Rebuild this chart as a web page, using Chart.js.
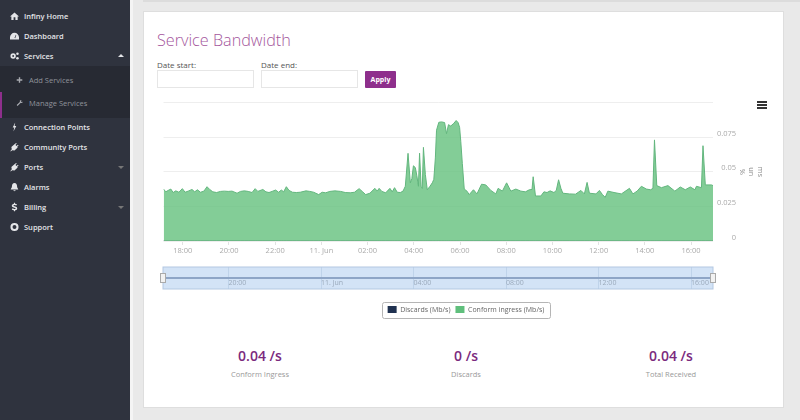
<!DOCTYPE html>
<html><head><meta charset="utf-8">
<script src="https://cdn.jsdelivr.net/npm/chart.js@4"></script>
<style>
html,body{margin:0;padding:0;background:#e9e9e9;width:800px;height:420px;overflow:hidden;font-family:"Open Sans",sans-serif}
.abs{position:absolute}
#side{left:0;top:0;width:130px;height:420px;background:#2f333e}
#gap{left:130px;top:0;width:3px;height:420px;background:#f4f4f4}
#sub{left:0;top:66px;width:130px;height:52px;background:#272a33}
#act{left:0;top:92px;width:1.5px;height:26px;background:#8e2f8c}
.m{position:absolute;left:24px;font-size:7.5px;font-weight:600;color:#e4e5e8;line-height:12px;transform:translateY(-6px);white-space:nowrap}
.s{font-weight:400;color:#8f929a;left:29px}
svg.i{position:absolute;left:9.5px;width:9px;height:9px;transform:translateY(-4.5px);fill:#e4e5e8}
svg.sm{left:15.5px;width:7px;height:7px;transform:translateY(-3.5px);fill:#a8aab0}
.car{position:absolute;left:118px;width:0;height:0;border-left:3px solid transparent;border-right:3px solid transparent}
#top{left:143px;top:0;width:657px;height:1.5px;background:#dcdcdc}
#card{left:143px;top:11px;width:641px;height:397px;background:#fff;border:1px solid #dedede;box-sizing:border-box}
h1{position:absolute;left:157px;top:28px;margin:0;font-size:16.2px;line-height:24px;font-weight:300;color:#a4569c;white-space:nowrap}
.lab{position:absolute;top:59px;font-size:8px;line-height:11px;font-weight:400;color:#555;white-space:nowrap}
.inp{position:absolute;top:70px;height:18px;width:97px;border:1px solid #e6e6e6;box-sizing:border-box;background:#fff}
#apply{left:365px;top:71px;width:31px;height:17px;background:#8e2f8c;color:#fff;font-size:7px;font-weight:700;text-align:center;line-height:17px;border-radius:1px}
#burger{left:757px;top:101px;width:10px;height:2px;background:#333;box-shadow:0 3px 0 #333,0 6px 0 #333}
canvas{position:absolute;display:block}
.val{position:absolute;top:346px;width:120px;text-align:center;font-size:14px;line-height:20px;font-weight:600;color:#7b2a7e}
.cap{position:absolute;top:369px;width:120px;text-align:center;font-size:7.5px;line-height:10px;color:#999}
</style></head>
<body>
<div class="abs" id="side"></div><div class="abs" id="gap"></div><div class="abs" id="sub"></div><div class="abs" id="act"></div>
<div class="abs" id="top"></div><div class="abs" id="card"></div>
<svg class="i" style="top:16px" viewBox="0 0 10 10"><path d="M5 1 0 5.5h1.5V9.500h2.500V6.500h2V9.500h2.500V5.500H10z"/></svg><div class="m" style="top:16px">Infiny Home</div>
<svg class="i" style="top:36px" viewBox="0 0 10 10"><path d="M5 1.5A5 5 0 0 0 0 6.5V9h10V6.5A5 5 0 0 0 5 1.5zM5 7 6.5 3.500 7 4 5.800 7.500z"/></svg><div class="m" style="top:36px">Dashboard</div>
<svg class="i" style="top:56px" viewBox="0 0 10 10"><path fill-rule="evenodd" d="M3.5 2a3 3 0 1 0 0 6 3 3 0 0 0 0-6zm0 2a1 1 0 1 1 0 2 1 1 0 0 1 0-2z"/><circle cx="8.3" cy="2.5" r="1.4"/><circle cx="8.3" cy="7.5" r="1.4"/></svg><div class="m" style="top:56px">Services</div>
<i class="car" style="top:54px;border-bottom:3px solid #e4e5e8"></i>
<svg class="i sm" style="top:79.5px" viewBox="0 0 10 10"><path d="M4 1h2v3h3v2H6v3H4V6H1V4h3z"/></svg><div class="m s" style="top:79.5px">Add Services</div>
<svg class="i sm" style="top:103px" viewBox="0 0 10 10"><path d="M1 8 5.500 3.500 5.500 1.500 8 .8 7 2.500 8.500 4 9.500 2.500 9 5 6.500 5 2.200 9.200z"/></svg><div class="m s" style="top:103px">Manage Services</div>
<svg class="i" style="top:127px" viewBox="0 0 10 10"><path d="M5.800 0 3 5.500h1.800L3.800 10 7 4H5.100z"/></svg><div class="m" style="top:127px">Connection Points</div>
<svg class="i" style="top:147px" viewBox="0 0 10 10"><path d="M0 10 2 7.500 1.500 5 5 2 6.800.5l.7.7L6 2.700l1.300 1.300 1.500-1.500.7.7L8 4.700 8.500 5.500 5 9 2.500 8.500.8 10z"/></svg><div class="m" style="top:147px">Community Ports</div>
<svg class="i" style="top:167px" viewBox="0 0 10 10"><path d="M0 10 2 7.500 1.500 5 5 2 6.800.5l.7.7L6 2.700l1.300 1.300 1.500-1.500.7.7L8 4.700 8.500 5.500 5 9 2.500 8.500.8 10z"/></svg><div class="m" style="top:167px">Ports</div>
<i class="car" style="top:166px;border-top:3px solid #777"></i>
<svg class="i" style="top:187px" viewBox="0 0 10 10"><path d="M5 .5C3 .5 2.200 2 2.200 4 2.200 6 1 7 .8 7.800h8.400C9 7 7.800 6 7.800 4 7.800 2 7 .5 5 .5zM3.800 8.500a1.200 1.200 0 0 0 2.400 0z"/></svg><div class="m" style="top:187px">Alarms</div>
<svg class="i" style="top:207px" viewBox="0 0 10 10"><path d="M4.400 0h1.200v1.300c1 .1 1.800.5 2.200 1L6.900 3.400C6.400 3 5.800 2.700 5 2.700c-.8 0-1.200.3-1.200.7 0 1.200 4.200.5 4.200 3.200 0 1.100-.9 1.900-2.400 2.100V10H4.400V8.700C3.300 8.600 2.400 8.100 2 7.500l1-1.100c.5.5 1.200.9 2 .9.8 0 1.300-.3 1.300-.7C6.300 5.300 2 6 2 3.500 2 2.400 3 1.500 4.400 1.300z"/></svg><div class="m" style="top:207px">Billing</div>
<i class="car" style="top:206px;border-top:3px solid #777"></i>
<svg class="i" style="top:227px" viewBox="0 0 10 10"><path fill-rule="evenodd" d="M5 .5a4.500 4.500 0 1 0 0 9 4.500 4.500 0 0 0 0-9zm0 2.300a2.200 2.200 0 1 1 0 4.400 2.200 2.200 0 0 1 0-4.400z"/></svg><div class="m" style="top:227px">Support</div>

<h1>Service Bandwidth</h1>
<div class="lab" style="left:157px">Date start:</div><div class="inp" style="left:157px"></div>
<div class="lab" style="left:261px">Date end:</div><div class="inp" style="left:261px"></div>
<div class="abs" id="apply">Apply</div>
<div class="abs" id="burger"></div>

<canvas id="main" style="left:148px;top:92px;width:636px;height:232px" width="636" height="232"></canvas>
<canvas id="nav" style="left:150px;top:262px;width:576px;height:32px" width="576" height="32"></canvas>

<div class="val" style="left:200px">0.04 /s</div><div class="cap" style="left:200px">Conform Ingress</div>
<div class="val" style="left:406px">0 /s</div><div class="cap" style="left:406px">Discards</div>
<div class="val" style="left:611px">0.04 /s</div><div class="cap" style="left:611px">Total Received</div>

<script>
// minutes since 00:00 on 10 June
const minutes = [1030,1036,1042,1049,1055,1062,1070,1079,1086,1094,1104,1111,1118,1126,1135,1143,1150,1158,1168,1178,1188,1198,1208,1221,1230,1240,1250,1260,1268,1275,1288,1296,1304,1312,1321,1329,1336,1342,1349,1356,1365,1375,1385,1400,1410,1420,1433,1442,1451,1462,1475,1490,1502,1515,1526,1538,1546,1555,1566,1579,1585,1590,1597,1607,1618,1624,1630,1637,1645,1652,1658,1665,1671,1675,1679,1684,1688,1692,1695,1699,1702,1705,1710,1715,1722,1728,1732,1736,1739,1745,1752,1760,1765,1770,1776,1784,1790,1795,1799,1802,1806,1811,1818,1824,1835,1844,1856,1867,1880,1893,1899,1910,1921,1932,1945,1958,1970,1980,1987,1990,1996,2010,2018,2026,2034,2044,2050,2056,2062,2067,2084,2100,2114,2123,2130,2136,2153,2162,2170,2177,2184,2200,2219,2240,2249,2260,2271,2284,2295,2301,2305,2311,2323,2340,2358,2372,2385,2398,2410,2414,2427,2431,2437,2453,2457];
const ingress = [.0375,.0355,.0365,.0375,.0350,.0362,.0352,.0378,.0352,.0360,.0372,.0355,.0370,.0352,.0360,.0392,.0372,.0355,.0350,.0358,.0360,.0358,.0360,.0345,.0358,.0362,.0358,.0350,.0378,.0358,.0372,.0355,.0350,.0358,.0368,.0352,.0368,.0355,.0392,.0365,.0352,.0350,.0352,.0362,.0358,.0352,.0335,.0352,.0348,.0358,.0362,.0358,.0350,.0348,.0352,.0378,.0358,.0335,.0345,.0380,.0360,.0380,.0358,.0348,.0380,.0355,.0385,.0352,.0350,.0360,.0395,.0633,.0420,.0450,.0543,.0530,.0470,.0395,.0634,.0395,.0380,.0676,.0480,.0370,.0395,.0420,.0445,.0600,.0800,.0857,.0860,.0855,.0775,.0840,.0830,.0850,.0870,.0855,.0820,.0720,.0560,.0375,.0360,.0335,.0370,.0340,.0410,.0405,.0365,.0340,.0380,.0360,.0420,.0360,.0375,.0360,.0355,.0370,.0372,.0464,.0325,.0325,.0355,.0350,.0362,.0350,.0365,.0442,.0380,.0345,.0340,.0338,.0365,.0340,.0423,.0345,.0340,.0365,.0335,.0315,.0360,.0350,.0340,.0380,.0340,.0360,.0395,.0375,.0370,.0380,.0730,.0400,.0385,.0400,.0360,.0390,.0370,.0390,.0370,.0395,.0385,.0688,.0405,.0405,.0400];
const discards = ingress.map(() => 0);
const xTickValues = [1080,1200,1320,1440,1560,1680,1800,1920,2040,2160,2280,2400];
const xTickLabels = ["18:00","20:00","22:00","11. Jun","02:00","04:00","06:00","08:00","10:00","12:00","14:00","16:00"];
const navTickValues = [1200,1440,1680,1920,2160,2400];
const navTickLabels = ["20:00","11. Jun","04:00","08:00","12:00","16:00"];
const yTickValues = [0,0.025,0.05,0.075,0.1];
const yTickLabels = ["0","0.025","0.05","0.075",""];
const xMin = 1030, xMax = 2457;

const pts = a => a.map((v,i) => ({x:minutes[i], y:v}));
const tickFont = {family:'"Open Sans"', size:7.5};

const legendBox = {id:'legendBox', afterDraw(c){
  const h=c.legend.legendHitBoxes, g=c.ctx; if(!h||!h.length) return;
  const last=h[h.length-1];
  const x0=h[0].left-6, x1=last.left+last.width+5, y0=h[0].top-4, y1=h[0].top+h[0].height+4;
  g.save(); g.strokeStyle='#b5b5b5'; g.lineWidth=1;
  g.beginPath(); g.roundRect(Math.round(x0)+.5,Math.round(y0)+.5,Math.round(x1-x0),Math.round(y1-y0)+1,2); g.stroke(); g.restore();
}};

new Chart(document.getElementById('main'),{
  type:'line',
  data:{datasets:[
    {label:'Discards (Mb/s)',data:pts(discards),borderColor:'#1f3150',backgroundColor:'#1f3150',borderWidth:1,pointRadius:0,fill:false,order:2},
    {label:'Conform ingress (Mb/s)',data:pts(ingress),borderColor:'#63b67e',backgroundColor:'#5fbf7c',borderWidth:1,pointRadius:0,tension:0,fill:{target:'origin',above:'rgba(100,192,125,.8)'},order:1}
  ]},
  plugins:[legendBox],
  options:{
    responsive:false,animation:false,devicePixelRatio:1,
    layout:{padding:{left:15.5,top:3.25,right:15.5,bottom:1}},
    plugins:{tooltip:{enabled:false},
      legend:{position:'bottom',labels:{boxWidth:9,boxHeight:7,padding:5,color:'#666',font:{family:'"Open Sans"',size:7},
        generateLabels(c){return c.data.datasets.map((d,i)=>({text:d.label,fillStyle:d.label.startsWith('Conform')?'#5fbf7c':'#1f3150',strokeStyle:'transparent',lineWidth:0,datasetIndex:i,fontColor:'#666'}));}}}},
    scales:{
      x:{type:'linear',min:xMin,max:xMax,
        afterBuildTicks(s){s.ticks=xTickValues.map(v=>({value:v}));},
        afterFit(s){s.height=60;},
        grid:{drawOnChartArea:false,drawTicks:true,tickLength:4,color:'#e2e2e2'},border:{display:false},
        ticks:{autoSkip:false,maxRotation:0,padding:1,color:'#aaa',font:tickFont,callback(v){return xTickLabels[xTickValues.indexOf(v)];}}},
      y:{type:'linear',position:'right',min:0,max:0.1,
        afterBuildTicks(s){s.ticks=yTickValues.map(v=>({value:v}));},
        afterFit(s){s.width=23;},
        grid:{color:'#eeeeee',drawTicks:false},border:{display:false},
        ticks:{crossAlign:'far',padding:6,labelOffset:-3.5,color:'#aaa',font:tickFont,callback(v){return yTickLabels[yTickValues.indexOf(v)];}}},
      yTitle:{type:'linear',position:'right',min:0,max:0.1,
        afterFit(s){s.width=32.5;},
        grid:{display:false},border:{display:false},ticks:{display:false},
        title:{display:true,text:['ms','un','%'],color:'#888',font:{family:'"Open Sans"',size:7.5,lineHeight:1.2},padding:{top:4,bottom:0}}}
    }
  }
});

const navBack = {id:'navBack',
  beforeDraw(c){const a=c.chartArea,g=c.ctx;g.save();g.fillStyle='#d3e3f6';g.fillRect(a.left,a.top,a.width,a.height);g.restore();},
  afterDraw(c){const a=c.chartArea,g=c.ctx;g.save();g.strokeStyle='#b3c8e2';g.lineWidth=1;g.strokeRect(a.left,a.top,a.width,a.height);
    const my=(a.top+a.bottom)/2;
    [a.left,a.right].forEach(x=>{g.fillStyle='#f2f2f2';g.strokeStyle='#aaa';g.fillRect(x-2.5,my-4.5,5,9);g.strokeRect(x-2.5,my-4.5,5,9);});
    g.restore();}
};
new Chart(document.getElementById('nav'),{
  type:'line',
  data:{datasets:[{data:pts(discards),borderColor:'#8ea5c6',borderWidth:2,pointRadius:0,fill:false}]},
  plugins:[navBack],
  options:{
    responsive:false,animation:false,devicePixelRatio:1,
    layout:{padding:{left:13,right:13,top:5,bottom:5}},
    plugins:{legend:{display:false},tooltip:{enabled:false}},
    scales:{
      x:{type:'linear',min:xMin,max:xMax,position:{y:0},
        afterBuildTicks(s){s.ticks=navTickValues.map(v=>({value:v}));},
        grid:{color:'#bfd3ea',drawTicks:false},border:{display:false},
        ticks:{autoSkip:false,maxRotation:0,align:'start',padding:1,color:'#9aa9bb',font:{family:'"Open Sans"',size:7},callback(v){return navTickLabels[navTickValues.indexOf(v)];}}},
      y:{display:false,min:-1,max:1}
    }
  }
});
</script>
</body></html>
